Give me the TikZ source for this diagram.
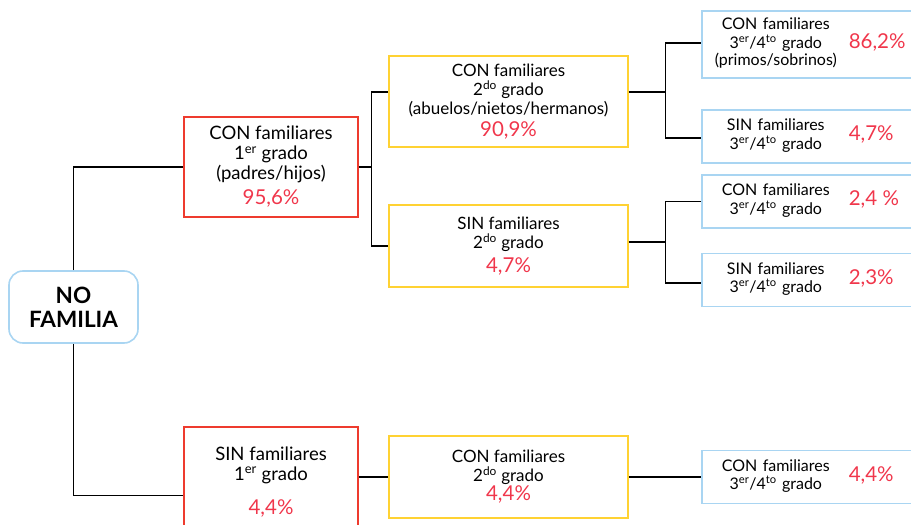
\documentclass[tikz,border=0pt]{standalone}
\usepackage{fontspec}
\setmainfont{Lato}
\usetikzlibrary{positioning}
\definecolor{bordeRojo}{HTML}{EE3B2E}
\definecolor{bordeAmarillo}{HTML}{FFD233}
\definecolor{bordeAzul}{HTML}{A9D5F2}
\definecolor{textoPct}{HTML}{F0364B}
\newcommand{\pct}[1]{{\color{textoPct}\fontsize{20.5}{22}\selectfont #1}}
\newcommand{\tercer}{3\textsuperscript{er}/4\textsuperscript{to} grado}
\tikzset{
    %Define style for root box
    raiz/.style={
           rectangle,
           rounded corners=14pt,
           draw=bordeAzul, line width=1.6pt,
           minimum width=129pt,
           minimum height=72pt,
           font=\bfseries\fontsize{22.5}{24}\selectfont,
           align=center},
    primer/.style={
           rectangle,
           draw=bordeRojo, line width=1.6pt,
           minimum width=174pt,
           minimum height=100pt,
           font=\fontsize{18.5}{20}\selectfont,
           align=center},
    segundo/.style={
           rectangle,
           draw=bordeAmarillo, line width=1.6pt,
           minimum width=239pt,
           font=\fontsize{17}{19}\selectfont,
           align=center},
    tercero/.style={
           rectangle,
           anchor=west,
           draw=bordeAzul, line width=1.6pt,
           text width=204pt,
           inner xsep=18pt,
           font=\fontsize{16}{16.5}\selectfont,
           align=left},
    % Define connector style
    enlace/.style={
           draw=black,
           line width=1.3pt}
}
\newcommand{\caja}[2]{\makebox[112pt]{\begin{tabular}{@{}c@{}}#1\end{tabular}}\hspace{17pt}\pct{#2}}

\begin{document}
\begin{tikzpicture}[x=1pt,y=-1pt]
\clip (0,0) rectangle (911,525);
\node[raiz] (raiz) at (73.5,307) {NO\\FAMILIA};
% primer grado
\node[primer] (con1) at (271,167) {CON familiares\\1\textsuperscript{er} grado\\(padres/hijos)\\[5pt]\pct{95,6\%}};
\node[primer, minimum height=110pt, anchor=north] (sin1) at (271,426) {SIN familiares\\1\textsuperscript{er} grado\\[14pt]\pct{4,4\%}};
% segundo grado
\node[segundo, minimum height=91pt] (con2) at (508.5,101.5) {CON familiares\\2\textsuperscript{do} grado\\(abuelos/nietos/hermanos)\\[3pt]\pct{90,9\%}};
\node[segundo, minimum height=82pt] (sin2) at (508.5,246) {SIN familiares\\2\textsuperscript{do} grado\\[5pt]\pct{4,7\%}};
\node[segundo, minimum height=82pt] (con2b) at (508.5,477) {CON familiares\\2\textsuperscript{do} grado\\\pct{4,4\%}};
% tercer y cuarto grado
\node[tercero, minimum height=67pt] (con3a) at (701,44.5) {\caja{CON familiares\\\tercer\\(primos/sobrinos)}{86,2\%}};
\node[tercero, minimum height=53pt] (sin3a) at (701,136.5) {\caja{SIN familiares\\\tercer}{4,7\%}};
\node[tercero, minimum height=53pt] (con3b) at (701,201.5) {\caja{CON familiares\\\tercer}{2,4 \%}};
\node[tercero, minimum height=53pt] (sin3b) at (701,280) {\caja{SIN familiares\\\tercer}{2,3\%}};
\node[tercero, minimum height=53pt] (con3c) at (701,477) {\caja{CON familiares\\\tercer}{4,4\%}};
% conectores
\draw[enlace] (raiz.north) |- (con1.west);
\draw[enlace] (raiz.south) |- ([yshift=-14pt]sin1.west);
\draw[enlace] (con1.east) -- ++(13,0) |- ([yshift=9.5pt]con2.west);
\draw[enlace] (con1.east) -- ++(13,0) |- (sin2.west);
\draw[enlace] ([yshift=9.5pt]con2.east) -- ++(37,0) |- ([yshift=1.5pt]con3a.west);
\draw[enlace] ([yshift=9.5pt]con2.east) -- ++(37,0) |- ([yshift=-1.5pt]sin3a.west);
\draw[enlace] ([yshift=4pt]sin2.east) -- ++(37,0) |- (con3b.west);
\draw[enlace] ([yshift=4pt]sin2.east) -- ++(37,0) |- ([yshift=-3pt]sin3b.west);
\draw[enlace] (con2b.west -| sin1.east) -- (con2b.west);
\draw[enlace] (con2b.east) -- (con3c.west);
\end{tikzpicture}
\end{document}
